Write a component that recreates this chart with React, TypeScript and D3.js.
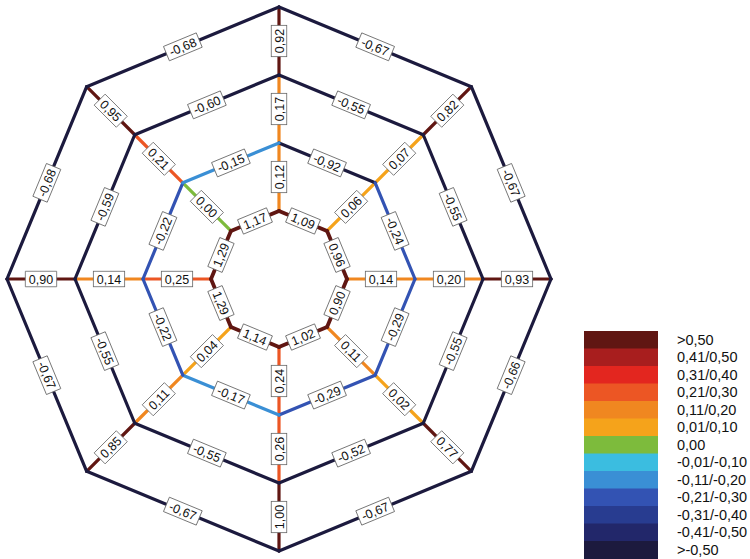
import React from "react";
import * as d3 from "d3";

// Directions (vertices of the octagons), clockwise from north
const directions = ["N", "NE", "E", "SE", "S", "SW", "W", "NW"];
// Ring edges: value of the edge from direction i to direction i+1
const ring1 = [1.09, 0.96, 0.9, 1.02, 1.14, 1.29, 1.29, 1.17];
const ring2 = [-0.92, -0.24, -0.29, -0.29, -0.17, -0.22, -0.22, -0.15];
const ring3 = [-0.55, -0.55, -0.55, -0.52, -0.55, -0.55, -0.59, -0.6];
const ring4 = [-0.67, -0.67, -0.66, -0.67, -0.67, -0.67, -0.68, -0.68];
// Spokes: value of the radial edge at direction i
const spoke12 = [0.12, 0.06, 0.14, 0.11, 0.24, 0.04, 0.25, 0.0];
const spoke23 = [0.17, 0.07, 0.2, 0.02, 0.26, 0.11, 0.14, 0.21];
const spoke34 = [0.92, 0.82, 0.93, 0.77, 1.0, 0.85, 0.9, 0.95];

// Legend classes (top to bottom)
const legendLabels = [
  ">0,50",
  "0,41/0,50",
  "0,31/0,40",
  "0,21/0,30",
  "0,11/0,20",
  "0,01/0,10",
  "0,00",
  "-0,01/-0,10",
  "-0,11/-0,20",
  "-0,21/-0,30",
  "-0,31/-0,40",
  "-0,41/-0,50",
  ">-0,50",
];
const legendColors = [
  "#601612",
  "#a81e1e",
  "#e3261f",
  "#ec5624",
  "#f08720",
  "#f5a31b",
  "#7dbb3c",
  "#3bbde0",
  "#3a8fd5",
  "#3353b3",
  "#283c90",
  "#22276a",
  "#1c1a3e",
];
const thresholds = [-0.505, -0.405, -0.305, -0.205, -0.105, -0.005, 0.005, 0.105, 0.205, 0.305, 0.405, 0.505];

const W = 750;
const H = 559;
const cx = 279;
const cy = 279;

const color = d3
  .scaleThreshold<number, string>()
  .domain(thresholds)
  .range(legendColors.slice().reverse());

const rScale = d3.scaleLinear().domain([1, 4]).range([68, 272]);
const aScale = d3.scaleLinear().domain([0, 8]).range([0, 2 * Math.PI]);

function pt(ring: number, dir: number): [number, number] {
  const [x, y] = d3.pointRadial(aScale(dir % 8), rScale(ring));
  return [cx + x, cy + y];
}

const fmt = (v: number) => v.toFixed(2).replace(".", ",");

function textWidth(s: string, fs: number) {
  let w = 0;
  for (const ch of s) {
    if (ch === ",") w += 0.278 * fs;
    else if (ch === "-") w += 0.333 * fs;
    else w += 0.556 * fs;
  }
  return w;
}

type Seg = { a: [number, number]; b: [number, number]; v: number; w: number };

export default function App() {
  const segs: Seg[] = [];
  const rings = [ring1, ring2, ring3, ring4];
  const spokes = [spoke12, spoke23, spoke34];
  spokes.forEach((arr, k) => {
    directions.forEach((_, i) => {
      segs.push({ a: pt(k + 1, i), b: pt(k + 2, i), v: arr[i], w: 3.2 });
    });
  });
  rings.forEach((arr, k) => {
    directions.forEach((_, i) => {
      segs.push({ a: pt(k + 1, i), b: pt(k + 1, i + 1), v: arr[i], w: k === 0 ? 3.8 : 3.2 });
    });
  });

  const rowH = 17.5;
  const legX = 584;
  const legY = 331;
  const fs = 12.5;

  return (
    <div style={{ position: "absolute", left: 0, top: 0 }}>
      <svg width={W} height={H} style={{ display: "block", background: "#fff" }}>
        <g>
          {segs.map((s, i) => (
            <line
              key={"l" + i}
              x1={s.a[0]}
              y1={s.a[1]}
              x2={s.b[0]}
              y2={s.b[1]}
              stroke={color(s.v)}
              strokeWidth={s.w}
              strokeLinecap="round"
            />
          ))}
        </g>
        <g fontFamily="'Liberation Sans', Arial, sans-serif" fontSize={fs}>
          {segs.map((s, i) => {
            const mx = (s.a[0] + s.b[0]) / 2;
            const my = (s.a[1] + s.b[1]) / 2;
            let ang = (Math.atan2(s.b[1] - s.a[1], s.b[0] - s.a[0]) * 180) / Math.PI;
            if (ang >= 89.9) ang -= 180;
            if (ang < -90.1) ang += 180;
            const t = fmt(s.v);
            const bw = textWidth(t, fs) + 7;
            const bh = 15.5;
            return (
              <g key={"t" + i} transform={`translate(${mx},${my}) rotate(${ang})`}>
                <rect x={-bw / 2} y={-bh / 2} width={bw} height={bh} fill="#fff" stroke="#666" strokeWidth={0.8} />
                <text textAnchor="middle" dy="0.36em" fill="#111">
                  {t}
                </text>
              </g>
            );
          })}
        </g>
        <g fontFamily="'Liberation Sans', Arial, sans-serif" fontSize={14.5}>
          {legendLabels.map((lab, i) => (
            <g key={"lg" + i}>
              <rect x={legX} y={legY + i * rowH} width={74} height={rowH + 0.5} fill={legendColors[i]} />
              <text x={677} y={legY + i * rowH + rowH / 2} dy="0.36em" fill="#111">
                {lab}
              </text>
            </g>
          ))}
        </g>
      </svg>
    </div>
  );
}
